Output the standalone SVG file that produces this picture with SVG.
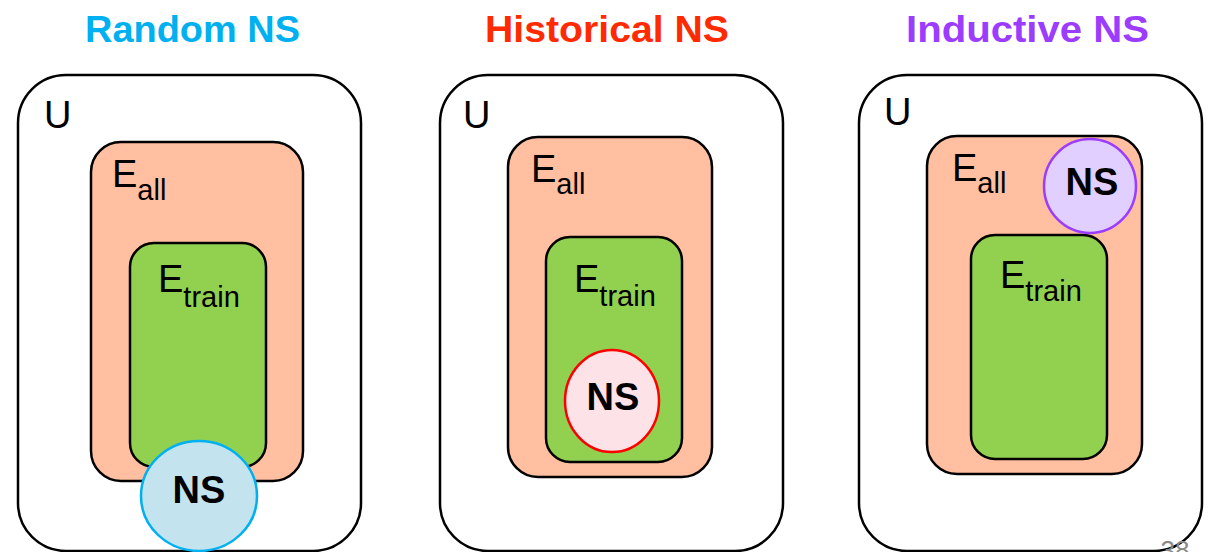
<svg xmlns="http://www.w3.org/2000/svg" width="1214" height="552" viewBox="0 0 1214 552">
<style>
.u{fill:#fff;stroke:#000;stroke-width:2.5}
.eall{fill:#FFBFA0;stroke:#000;stroke-width:2.5}
.etr{fill:#92D050;stroke:#000;stroke-width:2.5}
.title{font-family:"Liberation Sans",Arial,sans-serif;font-weight:bold;font-size:36px;text-anchor:middle}
.lbl{font-family:"Liberation Sans",Arial,sans-serif;font-size:38px;fill:#000}
.sub{font-size:29px}
.ns{font-family:"Liberation Sans",Arial,sans-serif;font-weight:bold;font-size:38px;text-anchor:middle;fill:#000}
</style>
<rect width="1214" height="552" fill="#fff"/>
<g id="titles">
<text class="title" x="192.5" y="42" fill="#00B0F0" textLength="215" lengthAdjust="spacingAndGlyphs">Random NS</text>
<text class="title" x="607" y="42" fill="#FF2A00" textLength="244" lengthAdjust="spacingAndGlyphs">Historical NS</text>
<text class="title" x="1027.5" y="42" fill="#9B3CFF" textLength="243" lengthAdjust="spacingAndGlyphs">Inductive NS</text>
</g>
<g id="random">
<rect class="u" x="18" y="75" width="343" height="476" rx="48"/>
<text class="lbl" x="44" y="128">U</text>
<rect class="eall" x="91" y="142" width="212" height="339" rx="30"/>
<text class="lbl" x="112" y="187">E<tspan class="sub" dy="13">all</tspan></text>
<rect class="etr" x="130" y="243" width="136" height="224" rx="24"/>
<text class="lbl" x="158" y="292">E<tspan class="sub" dy="15">train</tspan></text>
<ellipse cx="199" cy="496" rx="58" ry="55" fill="#C3E4EF" stroke="#00B0F0" stroke-width="2.5"/>
<text class="ns" x="199" y="503">NS</text>
</g>
<g id="historical">
<rect class="u" x="440" y="75" width="343" height="476" rx="48"/>
<text class="lbl" x="463" y="128">U</text>
<rect class="eall" x="508" y="137" width="204" height="340" rx="30"/>
<text class="lbl" x="531" y="182">E<tspan class="sub" dy="12">all</tspan></text>
<rect class="etr" x="546" y="237" width="136" height="225" rx="24"/>
<text class="lbl" x="574" y="292">E<tspan class="sub" dy="14">train</tspan></text>
<ellipse cx="612" cy="401" rx="47" ry="51" fill="#FDE2E8" stroke="#FF0000" stroke-width="2.5"/>
<text class="ns" x="613" y="410">NS</text>
</g>
<g id="inductive">
<rect class="u" x="859" y="75" width="343" height="476" rx="48"/>
<text class="lbl" x="884" y="125">U</text>
<rect class="eall" x="927" y="136" width="215" height="338" rx="30"/>
<text class="lbl" x="952" y="181">E<tspan class="sub" dy="12">all</tspan></text>
<rect class="etr" x="971" y="235" width="136" height="224" rx="24"/>
<text class="lbl" x="1000" y="288">E<tspan class="sub" dy="13">train</tspan></text>
<ellipse cx="1090" cy="186" rx="46" ry="47" fill="#E0CFFF" stroke="#9B3CFF" stroke-width="2.5"/>
<text class="ns" x="1092" y="195">NS</text>
</g>
<text x="1175" y="559" font-family="Liberation Sans,Arial,sans-serif" font-size="26" fill="#888" text-anchor="middle">38</text>
</svg>
